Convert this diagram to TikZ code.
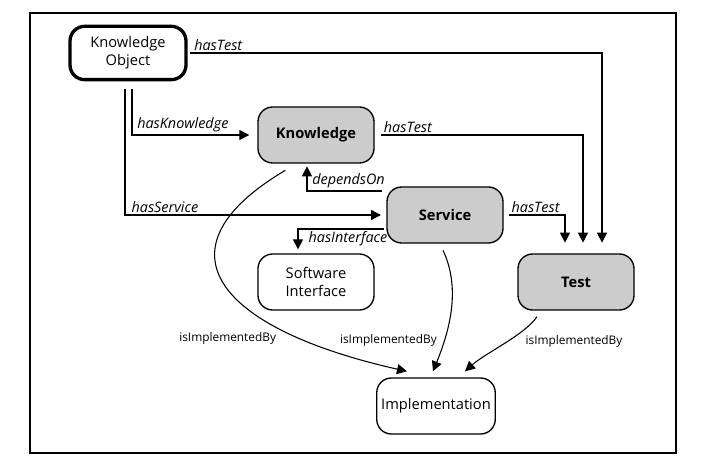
\documentclass[tikz,border=0pt]{standalone}
\usepackage{fontspec}
\setmainfont{Open Sans}
\usetikzlibrary{arrows.meta, positioning}

\begin{document}
\begin{tikzpicture}[>={Triangle[length=7.5pt,width=7.5pt]}, on grid, line width=0.9pt]
    \tikzstyle{item}=[shape=rectangle,rounded corners=11pt,draw,line width=1pt,minimum width=87pt,minimum height=42pt,align=center,font=\fontsize{11}{13.5}\selectfont]
    \tikzstyle{core}=[item,fill=black!20,font=\fontsize{11}{13.5}\selectfont\bfseries]
    \tikzstyle{rel}=[font=\fontsize{10.8}{12}\selectfont\itshape,inner sep=1.5pt]
    \tikzstyle{impl}=[font=\fontsize{8.9}{10}\selectfont,inner sep=0pt]

    \useasboundingbox (0,0) rectangle (526.5pt,-354.75pt);
    \draw[line width=1pt] (22.5pt,-9.75pt) rectangle (507pt,-339.75pt);

    \node[item, line width=2.5pt, minimum height=40pt] (KO) at (96pt,-39.75pt) {Knowledge\\Object};
    \node[core, below right=61.5pt and 141pt of KO] (K) {Knowledge};
    \node[core, below right=60pt and 96.75pt of K] (S) {Service};
    \node[item, below=110.25pt of K] (SI) {Software\\Interface};
    \node[core, right=195pt of SI] (T) {Test};
    \node[item, below left=143.25pt and 6.75pt of S] (I) {Implementation};

    % ownership links
    \draw[->, shorten <=2pt, shorten >=8pt] (KO.east) -| ([xshift=19.5pt]T.north)
        node[rel, pos=0, anchor=south west, xshift=3pt] {hasTest};
    \draw[->, shorten <=5pt, shorten >=8pt] (K.east) -| ([xshift=5.25pt]T.north)
        node[rel, pos=0, anchor=south west, xshift=5pt] {hasTest};
    \draw[->, shorten <=4pt, shorten >=8pt] (S.east) -| ([xshift=-8.25pt]T.north)
        node[rel, pos=0, anchor=south west, xshift=4pt] {hasTest};
    \draw[->, shorten <=6pt, shorten >=6pt] ([xshift=3pt]KO.south) |- (K.west)
        node[rel, pos=0.5, anchor=south west, xshift=2pt] {hasKnowledge};
    \draw[->, shorten <=6pt, shorten >=4pt] ([xshift=-2.25pt]KO.south) |- (S.west)
        node[rel, pos=0.5, anchor=south west, xshift=3pt] {hasService};
    \draw[->, shorten <=3pt, shorten >=2pt] ([yshift=18pt]S.west) -| ([xshift=-6.75pt]K.south)
        node[rel, pos=0.5, anchor=south west, xshift=2pt] {dependsOn};
    \draw[->, shorten <=2pt, shorten >=3pt] ([yshift=-10.5pt]S.west) -| ([xshift=-13.5pt]SI.north)
        node[rel, pos=0.5, anchor=north west, xshift=6pt] {hasInterface};

    % implementation links
    \draw[->, line width=0.8pt] ([xshift=-23pt,yshift=-5pt]K.south)
        .. controls +(-101.25pt,-60pt) and +(-140.25pt,31.5pt) .. ([xshift=-21.75pt,yshift=4.5pt]I.north)
        node[impl, pos=0.78, anchor=east, xshift=-18.75pt] {isImplementedBy};
    \draw[->, line width=0.8pt] ([xshift=-1.5pt,yshift=-5pt]S.south)
        .. controls +(14.25pt,-30pt) and +(11.25pt,27.75pt) .. ([xshift=-2.25pt,yshift=4.5pt]I.north)
        node[impl, pos=0.73, anchor=east, xshift=-5.25pt] {isImplementedBy};
    \draw[->, line width=0.8pt] ([xshift=-29.25pt,yshift=-4.5pt]T.south)
        .. controls +(-9pt,-13.5pt) and +(15pt,13.5pt) .. ([xshift=21.75pt,yshift=4.5pt]I.north)
        node[impl, pos=0.45, anchor=west, xshift=12.75pt] {isImplementedBy};
\end{tikzpicture}
\end{document}
